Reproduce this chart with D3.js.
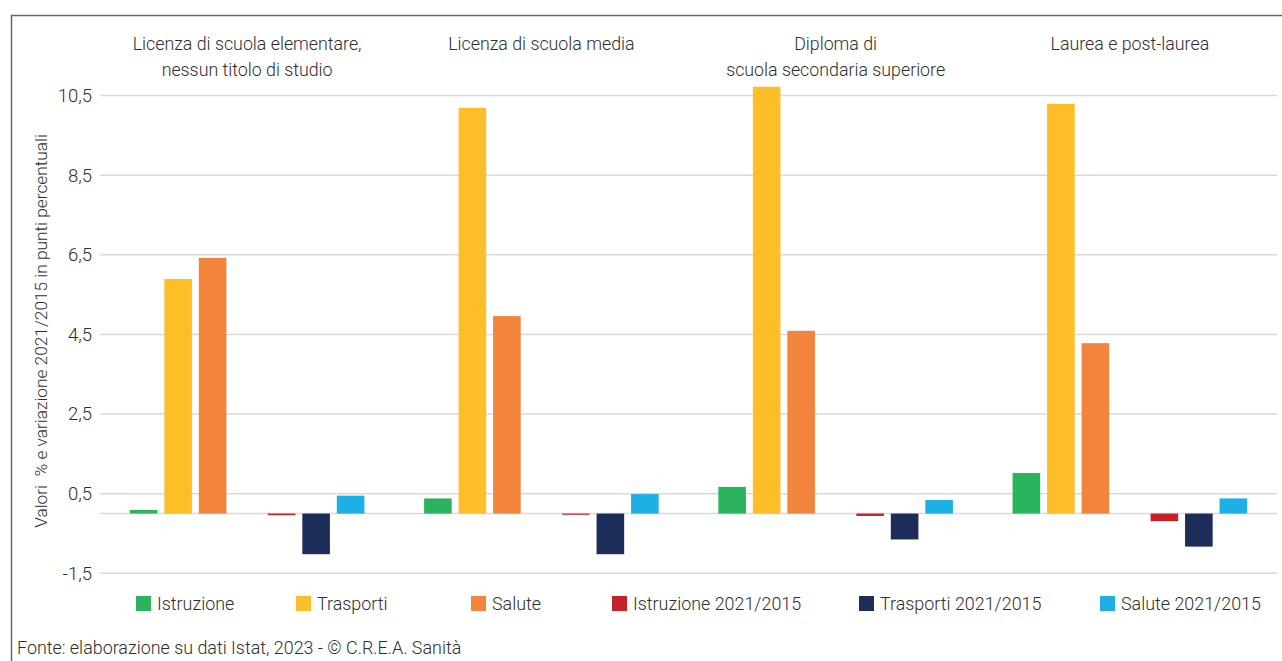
<!DOCTYPE html>
<html>
<head>
<meta charset="utf-8">
<script src="https://cdn.jsdelivr.net/npm/d3@7"></script>
<style>
  html, body { margin: 0; padding: 0; background: #fff; }
  svg { display: block; }
  text { font-family: "Roboto", "Liberation Sans", sans-serif; font-weight: 300; fill: #2e2e2e; }
</style>
</head>
<body>
<script>
// ---- data ----
const categories = [
  ["Licenza di scuola elementare,", "nessun titolo di studio"],
  ["Licenza di scuola media"],
  ["Diploma di", "scuola secondaria superiore"],
  ["Laurea e post-laurea"]
];
const seriesNames = ["Istruzione", "Trasporti", "Salute", "Istruzione 2021/2015", "Trasporti 2021/2015", "Salute 2021/2015"];
const seriesColors = ["#2bb45d", "#febe28", "#f2843c", "#c52127", "#1d2d5a", "#1cb0e4"];
const istruzione = [0.09, 0.38, 0.67, 1.02];
const trasporti = [5.89, 10.19, 10.72, 10.29];
const salute = [6.42, 4.96, 4.59, 4.28];
const istruzioneVar = [-0.04, -0.03, -0.06, -0.19];
const trasportiVar = [-1.02, -1.02, -0.65, -0.83];
const saluteVar = [0.45, 0.49, 0.34, 0.38];
const tickValues = [-1.5, 0.5, 2.5, 4.5, 6.5, 8.5, 10.5];
const yTitle = "Valori  % e variazione 2021/2015 in punti percentuali";
const source = "Fonte: elaborazione su dati Istat, 2023 - \u00A9 C.R.E.A. Sanit\u00E0";

const seriesValues = [istruzione, trasporti, salute, istruzioneVar, trasportiVar, saluteVar];

// ---- layout ----
const W = 1282, H = 661;
const svg = d3.select("body").append("svg").attr("width", W).attr("height", H);

// frame
svg.append("line").attr("x1", 11).attr("x2", W).attr("y1", 15.5).attr("y2", 15.5)
  .attr("stroke", "#666").attr("stroke-width", 1.5);
svg.append("line").attr("x1", 11.5).attr("x2", 11.5).attr("y1", 15).attr("y2", H)
  .attr("stroke", "#666").attr("stroke-width", 1.5);

const y = d3.scaleLinear().domain([-1.5, 10.5]).range([573.3, 95.5]);
const catKeys = categories.map((c, i) => "c" + i);
const x0 = d3.scaleBand().domain(catKeys).range([100, 1277]).padding(0);
const slotKeys = ["s0", "s1", "s2", "gap", "s3", "s4", "s5"];
const x1 = d3.scaleBand().domain(slotKeys).range([0, x0.bandwidth()])
  .paddingInner(0.2).paddingOuter(0.865);

// grid
const grid = svg.append("g");
grid.selectAll("line").data(tickValues.concat([0])).join("line")
  .attr("x1", 100).attr("x2", 1277)
  .attr("y1", d => y(d)).attr("y2", d => y(d))
  .attr("stroke", "#d9d9d9").attr("stroke-width", 1.5);

// y axis labels
const yAxis = d3.axisLeft(y).tickValues(tickValues).tickSize(0).tickPadding(0)
  .tickFormat(d => d3.format(".1f")(d).replace(".", ",").replace("\u2212", "-"));
const ya = svg.append("g").attr("transform", "translate(92,0)").call(yAxis);
ya.select(".domain").remove();
ya.selectAll("text").attr("font-size", 18.5).style("font-family", null).attr("fill", "#2e2e2e");
ya.attr("font-family", null);

// y title
svg.append("text")
  .attr("transform", "translate(47,331) rotate(-90)")
  .attr("text-anchor", "middle")
  .attr("font-size", 17.3)
  .style("white-space", "pre")
  .attr("xml:space", "preserve")
  .text(yTitle);

// category labels
const catG = svg.append("g");
categories.forEach((lines, i) => {
  const cx = x0(catKeys[i]) + x0.bandwidth() / 2;
  const t = catG.append("text").attr("text-anchor", "middle").attr("font-size", 17.8);
  lines.forEach((l, j) => {
    t.append("tspan").attr("x", cx).attr("y", 50 + j * 26).text(l);
  });
});

// bars
const barData = [];
seriesValues.forEach((vals, s) => {
  vals.forEach((v, c) => barData.push({ s, c, v }));
});
const seriesSlot = ["s0", "s1", "s2", "s3", "s4", "s5"];
svg.append("g").selectAll("rect").data(barData).join("rect")
  .attr("x", d => x0(catKeys[d.c]) + x1(seriesSlot[d.s]))
  .attr("width", x1.bandwidth())
  .attr("y", d => y(Math.max(0, d.v)))
  .attr("height", d => Math.abs(y(d.v) - y(0)))
  .attr("fill", d => seriesColors[d.s]);

// legend
const legendX = [136, 296, 471, 612, 859, 1100];
const lg = svg.append("g");
seriesNames.forEach((n, i) => {
  lg.append("rect").attr("x", legendX[i]).attr("y", 596).attr("width", 15).attr("height", 15)
    .attr("fill", seriesColors[i]);
  lg.append("text").attr("x", legendX[i] + 21).attr("y", 610).attr("font-size", 17.9).text(n);
});

// source
svg.append("text").attr("x", 17).attr("y", 654).attr("font-size", 17.9).text(source);
</script>
</body>
</html>
